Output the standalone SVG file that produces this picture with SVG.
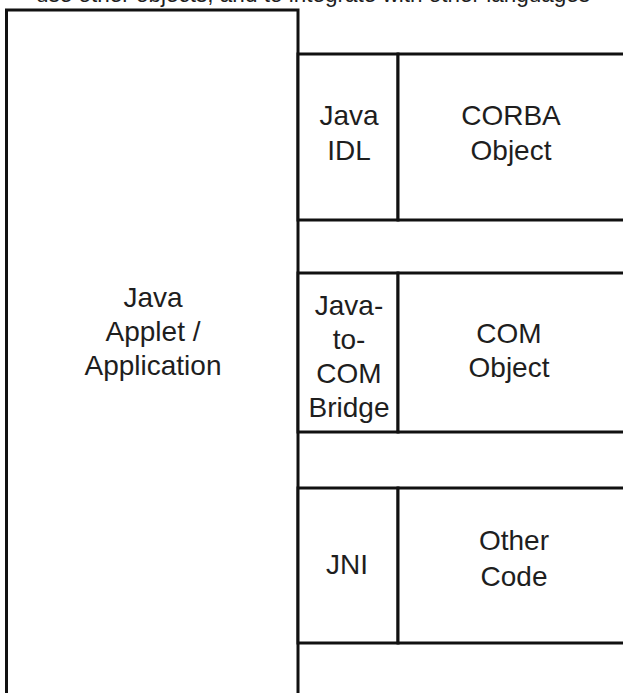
<svg xmlns="http://www.w3.org/2000/svg" width="623" height="693" viewBox="0 0 623 693">
  <style>
    .box { fill: #ffffff; stroke: #111111; stroke-width: 3; }
    .lbl { font-family: "Liberation Sans", Arial, Helvetica, sans-serif; font-size: 28px; fill: #1e1e1e; text-anchor: middle; }
    .cap { font-family: "Liberation Sans", Arial, Helvetica, sans-serif; font-size: 22.5px; fill: #1e1e1e; }
  </style>
  <rect x="0" y="0" width="623" height="693" fill="#ffffff"/>
  <g id="caption">
    <text class="cap" x="36" y="1.5">use other objects, and to integrate with other languages</text>
  </g>
  <g id="connectors"></g>
  <g id="java-app">
    <rect class="box" x="6.5" y="10" width="291.5" height="700"/>
    <text class="lbl" x="153" y="307">Java</text>
    <text class="lbl" x="153" y="341">Applet /</text>
    <text class="lbl" x="153" y="375">Application</text>
  </g>
  <g id="java-idl">
    <rect class="box" x="298" y="54" width="100" height="166"/>
    <text class="lbl" x="349" y="125">Java</text>
    <text class="lbl" x="349" y="160">IDL</text>
  </g>
  <g id="corba-object">
    <rect class="box" x="398" y="54" width="240" height="166"/>
    <text class="lbl" x="511" y="125">CORBA</text>
    <text class="lbl" x="511" y="160">Object</text>
  </g>
  <g id="java-to-com-bridge">
    <rect class="box" x="298" y="273" width="100" height="159"/>
    <text class="lbl" x="349" y="315">Java-</text>
    <text class="lbl" x="349" y="349">to-</text>
    <text class="lbl" x="349" y="383">COM</text>
    <text class="lbl" x="349" y="417">Bridge</text>
  </g>
  <g id="com-object">
    <rect class="box" x="398" y="273" width="240" height="159"/>
    <text class="lbl" x="509" y="343">COM</text>
    <text class="lbl" x="509" y="377">Object</text>
  </g>
  <g id="jni">
    <rect class="box" x="298" y="488" width="100" height="155"/>
    <text class="lbl" x="347" y="574">JNI</text>
  </g>
  <g id="other-code">
    <rect class="box" x="398" y="488" width="240" height="155"/>
    <text class="lbl" x="514" y="550">Other</text>
    <text class="lbl" x="514" y="586">Code</text>
  </g>
</svg>
